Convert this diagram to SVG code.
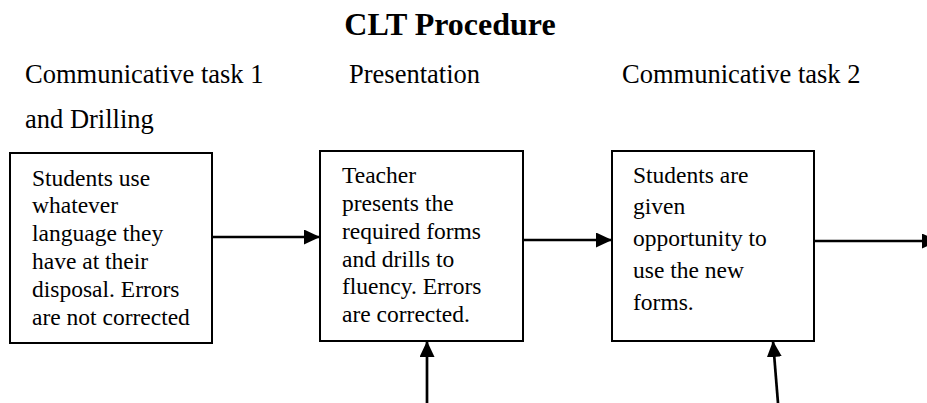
<svg xmlns="http://www.w3.org/2000/svg" width="927" height="403" viewBox="0 0 927 403">
<defs>
<marker id="ah" viewBox="0 0 16 15" refX="16" refY="7.5" markerWidth="16" markerHeight="15" markerUnits="userSpaceOnUse" orient="auto">
<path d="M0,0 L16,7.5 L0,15 Z" fill="#000"/>
</marker>
<style>
.t{font-family:"Liberation Serif","Times New Roman",serif;fill:#000}
.h{font-size:26.5px}
.b{font-size:23.5px}
.title{font-size:32px;font-weight:bold}
.box{fill:#fff;stroke:#000;stroke-width:2}
.c{stroke:#000;stroke-width:2.7;fill:none;marker-end:url(#ah)}
</style>
</defs>
<rect width="927" height="403" fill="#fff"/>
<g id="header">
<text class="t title" x="450" y="35" text-anchor="middle">CLT Procedure</text>
<text class="t h" x="25" y="83">Communicative task 1</text>
<text class="t h" x="25" y="128">and Drilling</text>
<text class="t h" x="349" y="83">Presentation</text>
<text class="t h" x="622" y="83">Communicative task 2</text>
</g>
<g id="connectors">
<line class="c" x1="212" y1="237" x2="320" y2="237"/>
<line class="c" x1="523" y1="240" x2="612" y2="240"/>
<line class="c" x1="814" y1="241" x2="938" y2="241"/>
<line class="c" x1="427" y1="403" x2="427" y2="341"/>
<line class="c" x1="778" y1="403" x2="773" y2="341"/>
</g>
<g id="node1">
<rect class="box" x="10" y="153" width="202" height="190"/>
<text class="t b" x="32" y="186">Students use</text>
<text class="t b" x="32" y="213">whatever</text>
<text class="t b" x="32" y="241">language they</text>
<text class="t b" x="32" y="269">have at their</text>
<text class="t b" x="32" y="297">disposal. Errors</text>
<text class="t b" x="32" y="325">are not corrected</text>
</g>
<g id="node2">
<rect class="box" x="320" y="151" width="203" height="190"/>
<text class="t b" x="342" y="183">Teacher</text>
<text class="t b" x="342" y="211">presents the</text>
<text class="t b" x="342" y="239">required forms</text>
<text class="t b" x="342" y="267">and drills to</text>
<text class="t b" x="342" y="294">fluency. Errors</text>
<text class="t b" x="342" y="322">are corrected.</text>
</g>
<g id="node3">
<rect class="box" x="612" y="151" width="202" height="190"/>
<text class="t b" x="633" y="183">Students are</text>
<text class="t b" x="633" y="214">given</text>
<text class="t b" x="633" y="246">opportunity to</text>
<text class="t b" x="633" y="278">use the new</text>
<text class="t b" x="633" y="310">forms.</text>
</g>
</svg>
